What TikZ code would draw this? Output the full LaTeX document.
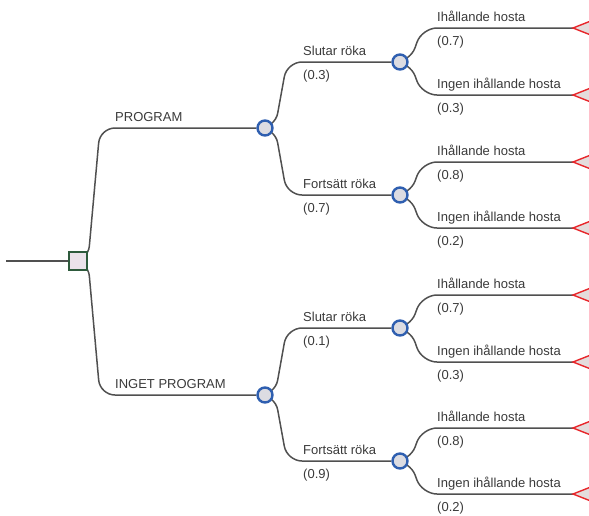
\documentclass[tikz,border=0pt]{standalone}
\usepackage{fontspec}
\setmainfont{Liberation Sans}
\usetikzlibrary{calc,backgrounds}
\definecolor{ink}{HTML}{3A3A3A}
\definecolor{linegray}{HTML}{505050}
\definecolor{chanceblue}{HTML}{2F5FB0}
\definecolor{chancefill}{HTML}{DCDCE2}
\definecolor{decgreen}{HTML}{2E5A3C}
\definecolor{decfill}{HTML}{EBE2EA}
\definecolor{termred}{HTML}{E8262A}
\definecolor{termfill}{HTML}{E4DCDC}
\begin{document}
\begin{tikzpicture}[x=1pt,y=-1pt,
  chance/.style={circle, draw=chanceblue, fill=chancefill, line width=2.4pt, minimum size=15pt, inner sep=0pt},
  decision/.style={rectangle, draw=decgreen, fill=decfill, line width=2.4pt, minimum size=18pt, inner sep=0pt},
  branch/.style={draw=linegray, line width=1.5pt, rounded corners=15pt},
  lbl/.style={anchor=base west, inner sep=0pt, text=ink, font=\fontsize{13}{15}\selectfont},
  term/.style={draw=termred, fill=termfill, line width=1.4pt, line join=miter}]
\useasboundingbox (0,0) rectangle (589,515);

% decision and chance nodes
\node[decision] (d) at (78,261) {};
\coordinate (start) at (6,261);
\node[chance] (p)  at (265,128) {};
\node[chance] (q)  at (265,395) {};
\node[chance] (p1) at (400,62)  {};
\node[chance] (p2) at (400,195) {};
\node[chance] (q1) at (400,328) {};
\node[chance] (q2) at (400,461) {};

% terminal points
\foreach \yl [count=\i] in {28,95,162,228,295,362,428,494}
  \coordinate (t\i) at (573,\yl);

% connectors: leave the node, slant towards the target row, turn right
\begin{scope}[on background layer]
  \draw[branch] (start) -- (d.west);
  \foreach \src/\dst in {d/p, d/q, p/p1, p/p2, q/q1, q/q2,
      p1/t1, p1/t2, p2/t3, p2/t4, q1/t5, q1/t6, q2/t7, q2/t8}
    \draw[branch] (\src.center) -- ++(10,0)
      -- ($(\src.center |- \dst)+(22,0)$) -- (\dst);
\end{scope}

% terminal triangles
\foreach \i in {1,...,8}
  \draw[term] (t\i) -- ++(19,-7.5) -- ++(0,15) -- cycle;

% decision labels
\node[lbl] (lp) at (115,121) {PROGRAM};
\node[lbl] (lq) at (115,388) {INGET PROGRAM};

% smoking labels
\foreach \dst/\name/\pr [count=\i] in {p1/Slutar röka/0.3, p2/Fortsätt röka/0.7, q1/Slutar röka/0.1, q2/Fortsätt röka/0.9}{
  \node[lbl] (sn\i) at ([xshift=-97pt,yshift=7pt]\dst.center) {\name};
  \node[lbl] (sp\i) at ([xshift=-97pt,yshift=-17pt]\dst.center) {(\pr)};
}

% outcome labels
\foreach \yl/\name/\pr [count=\i] in {
  28/Ihållande hosta/0.7, 95/Ingen ihållande hosta/0.3,
  162/Ihållande hosta/0.8, 228/Ingen ihållande hosta/0.2,
  295/Ihållande hosta/0.7, 362/Ingen ihållande hosta/0.3,
  428/Ihållande hosta/0.8, 494/Ingen ihållande hosta/0.2}{
  \node[lbl] (on\i) at (437,\yl-7) {\name};
  \node[lbl] (op\i) at (437,\yl+17) {(\pr)};
}
\end{tikzpicture}
\end{document}
